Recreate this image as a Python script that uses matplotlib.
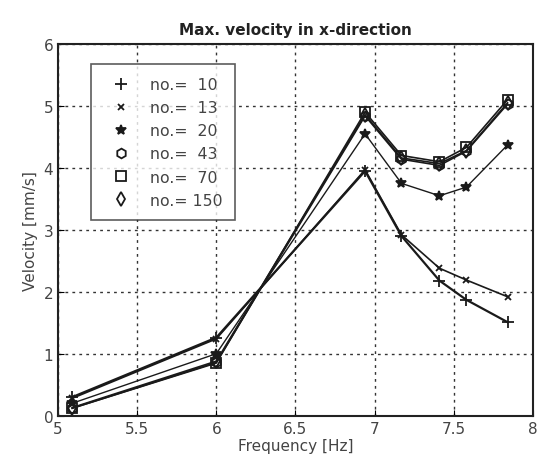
import matplotlib
matplotlib.use("Agg")
import matplotlib.pyplot as plt

freq = [5.09, 6.0, 6.94, 7.17, 7.41, 7.58, 7.84]
v10 = [0.30, 1.26, 3.95, 2.90, 2.18, 1.87, 1.51]
v13 = [0.28, 1.24, 3.97, 2.92, 2.38, 2.19, 1.92]
v20 = [0.20, 1.00, 4.55, 3.75, 3.55, 3.69, 4.37]
v43 = [0.12, 0.86, 4.84, 4.14, 4.04, 4.27, 5.03]
v70 = [0.12, 0.85, 4.90, 4.20, 4.10, 4.33, 5.10]
v150 = [0.13, 0.88, 4.86, 4.16, 4.07, 4.28, 5.05]
labels = ["no.=  10", "no.=  13", "no.=  20", "no.=  43", "no.=  70", "no.= 150"]

fig = plt.figure(figsize=(5.39, 4.64), dpi=100)
ax = fig.add_axes([0.1076, 0.102, 0.881, 0.801])
txtc = "#444444"

styles = [
    (v10, "+", 9, 1.6),
    (v13, "x", 4, 1.2),
    (v20, "*", 7, 1.0),
    (v43, "h", 7, 1.2),
    (v70, "s", 7, 1.2),
    (v150, "d", 7, 1.2),
]
for (vals, m, ms, lw), lab in zip(styles, labels):
    ax.plot(freq, vals, color="#1a1a1a", lw=lw, marker=m, ms=ms,
            mfc="none" if m in "hsd" else "#1a1a1a", mew=1.3, label=lab)

ax.set_xlim(5, 8)
ax.set_ylim(0, 6)
ax.set_xticks([5, 5.5, 6, 6.5, 7, 7.5, 8])
ax.set_xticklabels(["5", "5.5", "6", "6.5", "7", "7.5", "8"])
ax.set_yticks([0, 1, 2, 3, 4, 5, 6])
ax.grid(True, color="#333333", linestyle=(0, (2, 3)), lw=1.0)
ax.tick_params(direction="in", labelsize=11, labelcolor=txtc, length=4)
for s in ax.spines.values():
    s.set_linewidth(1.5)
    s.set_color("#222222")
ax.set_xlabel("Frequency [Hz]", fontsize=11, color=txtc, labelpad=2)
ax.set_ylabel("Velocity [mm/s]", fontsize=11, color=txtc, labelpad=4)
ax.set_title("Max. velocity in x-direction", fontsize=11, fontweight="bold", color="#222222", pad=7)

leg = ax.legend(loc="upper left", bbox_to_anchor=(0.069, 0.945),
                prop={"size": 11.3},
                frameon=True, fancybox=False, edgecolor="#333333", handlelength=2.2,
                handletextpad=0.8, labelspacing=0.52, borderpad=0.8, borderaxespad=0)
leg.get_frame().set_linewidth(1.2)
for line in leg.get_lines():
    line.set_linestyle("none")
for t in leg.get_texts():
    t.set_color(txtc)

fig.savefig("out.png", dpi=100)
